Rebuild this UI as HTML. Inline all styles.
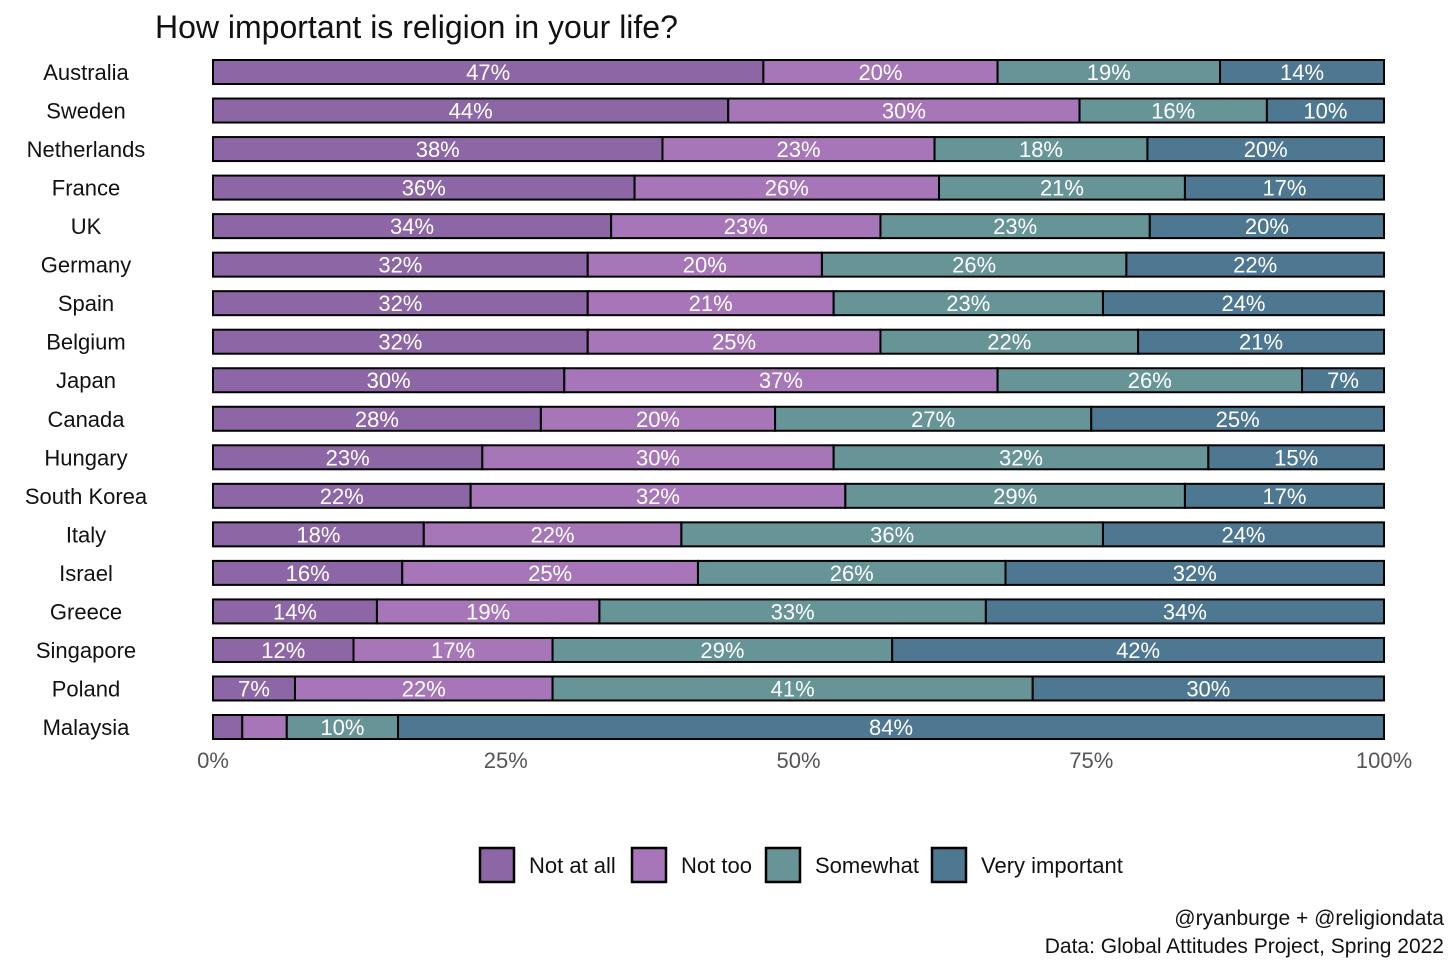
<!DOCTYPE html>
<html><head><meta charset="utf-8"><style>
body{margin:0;background:#fff;}
svg text{font-family:"Liberation Sans Narrow","Liberation Sans",sans-serif;}
</style></head><body>
<svg id="chart" width="1456" height="971" xmlns="http://www.w3.org/2000/svg">
<text x="155" y="38" font-size="32" fill="#111">How important is religion in your life?</text>
<g id="bars"></g>
<g id="axis"></g>
<g id="legend"></g>
<text x="1444" y="925" font-size="21" text-anchor="end" fill="#111">@ryanburge + @religiondata</text>
<text x="1444" y="953" font-size="21" text-anchor="end" fill="#111">Data: Global Attitudes Project, Spring 2022</text>
</svg>
<script>
const countries=["Australia","Sweden","Netherlands","France","UK","Germany","Spain","Belgium","Japan","Canada","Hungary","South Korea","Italy","Israel","Greece","Singapore","Poland","Malaysia"];
const notAtAll=[47,44,38,36,34,32,32,32,30,28,23,22,18,16,14,12,7,2.5];
const notToo=[20,30,23,26,23,20,21,25,37,20,30,32,22,25,19,17,22,3.8];
const somewhat=[19,16,18,21,23,26,23,22,26,27,32,29,36,26,33,29,41,9.5];
const veryImportant=[14,10,20,17,20,22,24,21,7,25,15,17,24,32,34,42,30,84.2];
const seriesNames=["Not at all","Not too","Somewhat","Very important"];
const tickLabels=["0%","25%","50%","75%","100%"];
const tickValues=[0,25,50,75,100];
const colors=["#8d66a6","#a676b8","#679497","#4e7791"];
const NS="http://www.w3.org/2000/svg";
const x0=213,x1=1384;
const xs=v=>x0+(x1-x0)*v/100;
const ys=i=>72+i*38.53;
function mk(t,a,p){const e=document.createElementNS(NS,t);for(const k in a)e.setAttribute(k,a[k]);p.appendChild(e);return e;}
const bars=document.getElementById('bars');
const series=[notAtAll,notToo,somewhat,veryImportant];
countries.forEach((c,i)=>{
  const y=ys(i);
  const lab=mk('text',{x:86,y:y+8,'font-size':22,'text-anchor':'middle',fill:'#111'},document.getElementById('chart'));
  
  
  lab.textContent=c;
  const tot=series.reduce((s,a)=>s+a[i],0);
  let cum=0;
  series.forEach((arr,k)=>{
    const v=arr[i]/tot*100;
    const r=mk('rect',{x:xs(cum),y:y-12,width:xs(cum+v)-xs(cum),height:24,fill:colors[k],stroke:'#000','stroke-width':2},bars);
    
    
    if(arr[i]>=5){
      const t=mk('text',{x:(xs(cum)+xs(cum+v))/2,y:y+8,'font-size':22,'text-anchor':'middle',fill:'#fff'},bars);
      
      
      t.textContent=Math.round(arr[i])+'%';
    }
    cum+=v;
  });
});
const axis=document.getElementById('axis');
tickValues.forEach((v,j)=>{
  const t=mk('text',{x:xs(v),y:768,'font-size':22,'text-anchor':'middle',fill:'#555'},axis);
  
  
  t.textContent=tickLabels[j];
});
const legend=document.getElementById('legend');
const lx=[480,632,766,932];
seriesNames.forEach((n,k)=>{
  const r=mk('rect',{x:lx[k],y:848,width:34,height:34,fill:colors[k],stroke:'#000','stroke-width':2.5},legend);
  
  
  const t=mk('text',{x:lx[k]+49,y:873,'font-size':22,fill:'#111'},legend);
  
  
  t.textContent=n;
});
</script>
</body></html>
